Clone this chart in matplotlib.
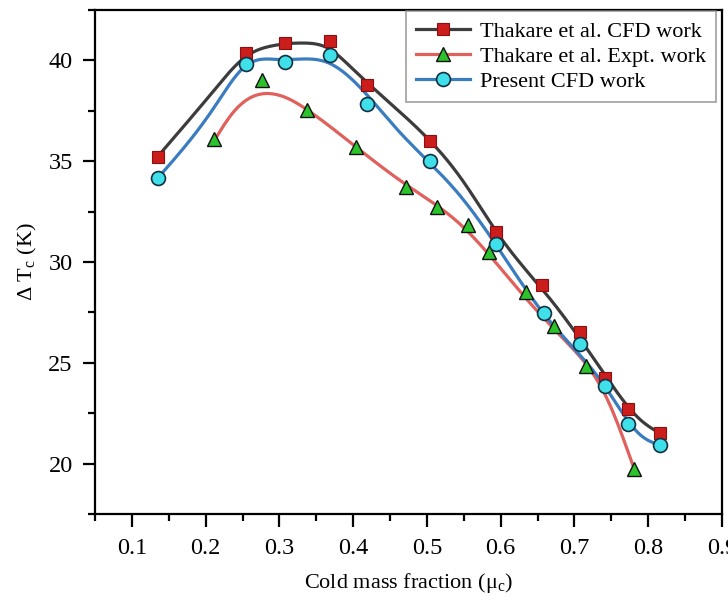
import numpy as np
import matplotlib
matplotlib.use("Agg")
import matplotlib.pyplot as plt
from matplotlib.ticker import MultipleLocator

plt.rcParams['font.family'] = ['Liberation Serif', 'DejaVu Serif']
plt.rcParams['mathtext.fontset'] = 'custom'
plt.rcParams['mathtext.rm'] = 'Liberation Serif'
plt.rcParams['mathtext.it'] = 'Liberation Serif:italic'

# ---- marker data ----
cfd_x = [0.135, 0.255, 0.307, 0.369, 0.419, 0.504, 0.593, 0.656, 0.708, 0.741, 0.772, 0.816]
cfd_y = [35.23, 40.37, 40.85, 40.98, 38.78, 36.01, 31.48, 28.86, 26.51, 24.27, 22.73, 21.54]

exp_x = [0.211, 0.276, 0.338, 0.404, 0.471, 0.513, 0.555, 0.584, 0.634, 0.672, 0.715, 0.780]
exp_y = [36.10, 39.04, 37.55, 35.70, 33.74, 32.75, 31.84, 30.50, 28.50, 26.82, 24.83, 19.75]

pre_x = [0.135, 0.255, 0.307, 0.368, 0.419, 0.504, 0.593, 0.658, 0.708, 0.741, 0.772, 0.816]
pre_y = [34.16, 39.84, 39.90, 40.28, 37.85, 35.02, 30.89, 27.45, 25.91, 23.84, 21.95, 20.91]

# ---- smoothed fit curves (knots) ----
cfd_cx = [0.135, 0.211, 0.255, 0.290, 0.333, 0.365, 0.400, 0.460, 0.546, 0.600, 0.668, 0.740, 0.790, 0.816]
cfd_cy = [35.23, 38.50, 40.20, 40.72, 40.86, 40.62, 39.55, 37.55, 34.16, 31.20, 28.12, 24.47, 22.15, 21.50]

pre_cx = [0.135, 0.211, 0.255, 0.301, 0.333, 0.365, 0.400, 0.460, 0.546, 0.600, 0.658, 0.741, 0.790, 0.816]
pre_cy = [34.16, 37.64, 39.75, 40.04, 40.07, 39.90, 39.00, 36.56, 33.24, 30.50, 27.45, 23.84, 21.40, 20.91]

exp_cx = [0.215, 0.233, 0.256, 0.288, 0.315, 0.3375, 0.404, 0.472, 0.546, 0.636, 0.690, 0.745, 0.780]
exp_cy = [36.22, 37.22, 38.05, 38.35, 38.05, 37.55, 35.70, 33.83, 31.84, 28.12, 26.00, 23.15, 19.83]

x_ticks = [0.1, 0.2, 0.3, 0.4, 0.5, 0.6, 0.7, 0.8, 0.9]
y_ticks = [20, 25, 30, 35, 40]


def smooth(xs, ys, n=400):
    """Natural cubic spline rendering through the knots for a smooth stroke."""
    x = np.asarray(xs, float)
    y = np.asarray(ys, float)
    k = len(x)
    h = np.diff(x)
    A = np.zeros((k, k))
    b = np.zeros(k)
    A[0, 0] = A[-1, -1] = 1.0
    for i in range(1, k - 1):
        A[i, i - 1] = h[i - 1]
        A[i, i] = 2 * (h[i - 1] + h[i])
        A[i, i + 1] = h[i]
        b[i] = 3 * ((y[i + 1] - y[i]) / h[i] - (y[i] - y[i - 1]) / h[i - 1])
    c = np.linalg.solve(A, b)
    xx = np.linspace(x[0], x[-1], n)
    idx = np.clip(np.searchsorted(x, xx) - 1, 0, k - 2)
    dx = xx - x[idx]
    hi = h[idx]
    bb = (y[idx + 1] - y[idx]) / hi - hi * (2 * c[idx] + c[idx + 1]) / 3
    dd = (c[idx + 1] - c[idx]) / (3 * hi)
    yy = y[idx] + bb * dx + c[idx] * dx ** 2 + dd * dx ** 3
    return xx, yy


fig = plt.figure(figsize=(7.28, 6.05), dpi=100)
ax = fig.add_axes([0.1305, 0.1504, 0.8613, 0.8331])

c_black = '#3c3c3c'
c_red = '#e0605c'
c_blue = '#3a7cc0'

lw = 2.3
sx, sy = smooth(cfd_cx, cfd_cy)
ax.plot(sx, sy, color=c_black, lw=lw, zorder=2)
sx, sy = smooth(exp_cx, exp_cy)
ax.plot(sx, sy, color=c_red, lw=lw, zorder=2)
sx, sy = smooth(pre_cx, pre_cy)
ax.plot(sx, sy, color=c_blue, lw=lw, zorder=2)

mk_cfd = dict(marker='s', ms=8.5, mfc='#cc1d1d', mec='#8a1010', mew=0.8)
mk_exp = dict(marker='^', ms=10, mfc='#2cc22c', mec='#111111', mew=1.0)
mk_pre = dict(marker='o', ms=10, mfc='#3fe0ea', mec='#153040', mew=1.2)

ax.plot(cfd_x, cfd_y, ls='none', zorder=3, **mk_cfd)
ax.plot(exp_x, exp_y, ls='none', zorder=3, **mk_exp)
ax.plot(pre_x, pre_y, ls='none', zorder=3, **mk_pre)

# legend proxies
h1, = ax.plot([], [], color=c_black, lw=lw, **mk_cfd)
h2, = ax.plot([], [], color=c_red, lw=lw, **mk_exp)
h3, = ax.plot([], [], color=c_blue, lw=lw, **mk_pre)
leg = ax.legend([h1, h2, h3], ['Thakare et al. CFD work', 'Thakare et al. Expt. work', 'Present CFD work'],
                loc='upper right', bbox_to_anchor=(0.99, 0.997), fontsize=16, frameon=True,
                fancybox=False, edgecolor='#888888', handlelength=2.4, handletextpad=0.45,
                borderpad=0.45, labelspacing=0.2, borderaxespad=0.0)
leg.get_frame().set_linewidth(1.2)

ax.set_xlim(0.05, 0.9)
ax.set_ylim(17.5, 42.5)
ax.set_xticks(x_ticks)
ax.set_xticklabels([f'{v:.1f}' for v in x_ticks])
ax.set_yticks(y_ticks)
ax.xaxis.set_minor_locator(MultipleLocator(0.05))
ax.yaxis.set_minor_locator(MultipleLocator(2.5))
ax.tick_params(which='major', direction='out', length=9, width=1.6, labelsize=17.5)
ax.tick_params(axis='x', which='major', pad=8)
ax.tick_params(axis='y', which='major', pad=7)
ax.tick_params(which='minor', direction='out', length=5, width=1.6)
for s in ax.spines.values():
    s.set_linewidth(1.6)

ax.set_xlabel('Cold mass fraction (μ$_{\\rm c}$)', fontsize=16, labelpad=9)
ax.set_ylabel('Δ T$_{\\rm c}$ (K)', fontsize=16, labelpad=7)

fig.savefig('out.png', dpi=100)
